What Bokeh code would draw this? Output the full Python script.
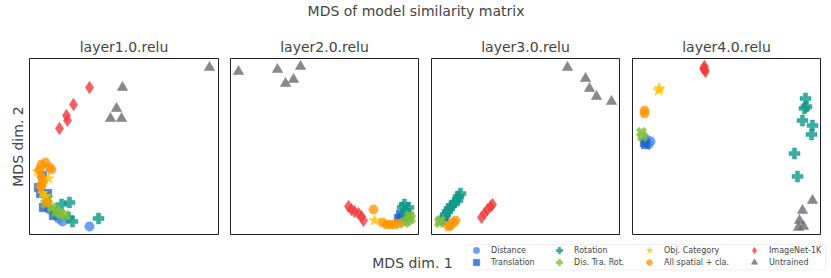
import math
from bokeh.plotting import figure
from bokeh.layouts import column, row
from bokeh.models import (Range1d, Title, Legend, LegendItem, BoxAnnotation, Label,
                          ColumnDataSource)
from bokeh.embed import file_html
from bokeh.resources import INLINE

FONT = "DejaVu Sans"

CATEGORIES = ["Distance", "Translation", "Rotation", "Dis. Tra. Rot.",
              "Obj. Category", "All spatial + cla.", "ImageNet-1K", "Untrained"]
LAYERS = ["layer1.0.relu", "layer2.0.relu", "layer3.0.relu", "layer4.0.relu"]

# MDS coordinates (arbitrary units) per layer and category: (xs, ys)
LAYER1 = {
    "Distance": ([60, 29, 20, 33], [8, 16, 25, 13]),
    "Translation": ([11, 18, 13, 24, 14, 9], [41, 41, 59, 19, 27, 47]),
    "Rotation": ([40, 32, 69, 39, 43, 26], [32, 30, 16, 17, 13, 22]),
    "Dis. Tra. Rot.": ([16, 23, 31, 36, 18, 27], [31, 27, 21, 19, 36, 23]),
    "Obj. Category": ([8, 14, 19, 13, 12, 16], [63, 55, 56, 41, 46, 38]),
    "All spatial + cla.": ([12, 16, 20, 22, 10, 12, 13, 11, 18], [70, 72, 67, 65, 65, 58, 52, 48, 32]),
    "ImageNet-1K": ([60, 44, 37, 38, 30], [147, 130, 119, 114, 106]),
    "Untrained": ([180, 93, 87, 81, 92], [167, 147, 126, 116, 116]),
}
LAYER2 = {
    "Distance": ([172, 176], [18, 16]),
    "Translation": ([168, 170], [16, 20]),
    "Rotation": ([175, 172, 178, 176, 174], [24, 27, 27, 21, 30]),
    "Dis. Tra. Rot.": ([177, 180, 174, 179], [14, 16, 12, 19]),
    "Obj. Category": ([144], [14]),
    "All spatial + cla.": ([143, 152, 156, 160, 164, 168], [25, 12, 10, 10, 10, 11]),
    "ImageNet-1K": ([118, 121, 124, 128, 131, 133], [28, 25, 23, 21, 18, 14]),
    "Untrained": ([8, 47, 70, 55, 63], [163, 165, 168, 151, 155]),
}
LAYER3 = {
    "Distance": ([12, 14], [16, 18]),
    "Translation": ([13], [14]),
    "Rotation": ([29, 27, 26, 23, 20, 18, 16, 14], [41, 38, 34, 32, 29, 26, 23, 20]),
    "Dis. Tra. Rot.": ([9, 8], [14, 12]),
    "Obj. Category": ([18], [11]),
    "All spatial + cla.": ([22, 19, 24, 17], [12, 9, 14, 8]),
    "ImageNet-1K": ([50, 53, 56, 59, 61], [17, 21, 25, 28, 30]),
    "Untrained": ([136, 154, 158, 165, 180], [167, 156, 146, 138, 133]),
}
LAYER4 = {
    "Distance": ([18, 14, 16], [93, 95, 90]),
    "Translation": ([12, 13], [92, 90]),
    "Rotation": ([173, 172, 174, 170, 180, 179, 162, 165], [136, 126, 128, 114, 109, 100, 81, 58]),
    "Dis. Tra. Rot.": ([9, 10], [102, 98]),
    "Obj. Category": ([26, 27], [144, 146]),
    "All spatial + cla.": ([12, 12], [124, 121]),
    "ImageNet-1K": ([72, 72, 73, 71], [168, 165, 163, 166]),
    "Untrained": ([180, 170, 167, 171, 166], [34, 24, 14, 8, 7]),
}
LAYER_DATA = [LAYER1, LAYER2, LAYER3, LAYER4]

STYLE = {
    "Distance": dict(marker="circle", color="#4a8af4", size=9.5, angle=0),
    "Translation": dict(marker="square", color="#1f63cc", size=8.5, angle=0),
    "Rotation": dict(marker="plus", color="#0e9889", size=11, angle=0),
    "Dis. Tra. Rot.": dict(marker="plus", color="#7fbe3a", size=11, angle=math.pi / 4),
    "Obj. Category": dict(marker="star", color="#ffc000", size=12, angle=0),
    "All spatial + cla.": dict(marker="hex", color="#ff9500", size=10, angle=0),
    "ImageNet-1K": dict(marker="diamond", color="#ef3b3b", size=12.5, angle=0),
    "Untrained": dict(marker="triangle", color="#6b6b70", size=10.5, angle=0),
}
ALPHA = 0.8

X_MAX = [189, 188, 188, 188]
Y_MAX = 176
WIDTHS = [224, 200, 201, 198]
BORDER_L = [29, 6, 7, 7]
BORDER_R = [6, 6, 6, 3]

# ---- overall title ----
top = figure(width=831, height=32, output_backend="svg", toolbar_location=None,
             x_axis_location=None, y_axis_location=None, min_border=0, min_border_top=4,
             outline_line_color=None, x_range=Range1d(0, 1), y_range=Range1d(0, 1))
top.grid.visible = False
top.title.text = "MDS of model similarity matrix"
top.title.align = "center"
top.title.text_font = FONT
top.title.text_font_size = "14px"
top.title.text_font_style = "normal"
top.title.standoff = 0

panels = []
for i, (name, data) in enumerate(zip(LAYERS, LAYER_DATA)):
    p = figure(width=WIDTHS[i], height=206, output_backend="svg", toolbar_location=None,
               x_axis_location=None, y_axis_location=None,
               x_range=Range1d(0, X_MAX[i]), y_range=Range1d(0, Y_MAX),
               min_border_left=BORDER_L[i], min_border_right=BORDER_R[i],
               min_border_top=26, min_border_bottom=4)
    p.grid.visible = False
    p.outline_line_color = "#222222"
    p.outline_line_width = 1
    p.outline_line_alpha = 1
    p.title.text = name
    p.title.align = "center"
    p.title.text_font = FONT
    p.title.text_font_size = "14px"
    p.title.text_font_style = "normal"
    p.title.standoff = 7
    for cat in CATEGORIES:
        xs, ys = data[cat]
        st = STYLE[cat]
        p.scatter(xs, ys, marker=st["marker"], size=st["size"], angle=st["angle"],
                  fill_color=st["color"], line_color=st["color"], line_width=0.5,
                  fill_alpha=ALPHA, line_alpha=ALPHA)
    if i == 0:
        p.add_layout(Title(text="MDS dim. 2", align="center", text_font=FONT,
                           text_font_size="14px", text_font_style="normal", standoff=7), "left")
    panels.append(p)

# ---- bottom: x label + legend ----
BW, BH = 828, 36
bot = figure(width=BW, height=BH, output_backend="svg", toolbar_location=None,
             x_axis_location=None, y_axis_location=None, min_border=0,
             outline_line_color=None, x_range=Range1d(0, BW), y_range=Range1d(0, BH))
bot.grid.visible = False
# an off-screen range so that the legend proxies (real layer-4 data) are not shown
bot.extra_y_ranges = {"hidden": Range1d(10000, 10001)}
bot.add_layout(Label(x=412, y=12, text="MDS dim. 1", text_align="center",
                     text_baseline="middle", text_font=FONT, text_font_size="14px"))
bot.add_layout(BoxAnnotation(left=465.5, right=825, bottom=4.5, top=30,
                             fill_color="white", fill_alpha=0.8,
                             line_color="#cccccc", line_width=1, border_radius=2))

proxies = {}
for cat in CATEGORIES:
    st = STYLE[cat]
    xs, ys = LAYER4[cat]
    src = ColumnDataSource(dict(x=xs, y=ys))
    proxies[cat] = bot.scatter("x", "y", source=src, y_range_name="hidden",
                               marker=st["marker"], angle=st["angle"], size=st["size"],
                               fill_color=st["color"], line_color=st["color"],
                               fill_alpha=ALPHA, line_alpha=ALPHA, line_width=0.5)

col_x = [468, 551, 641, 746]
row_bottom = [14, 2]
for idx, cat in enumerate(CATEGORIES):
    c, r = divmod(idx, 2)
    lg = Legend(items=[LegendItem(label=cat, renderers=[proxies[cat]])],
                location=(col_x[c], row_bottom[r]), orientation="vertical",
                glyph_width=16, glyph_height=20, label_height=10, label_standoff=7,
                spacing=0, padding=0, margin=0, border_line_color=None,
                background_fill_alpha=0, label_text_font=FONT, label_text_font_size="8px")
    bot.add_layout(lg)

layout = column(top, row(*panels), bot)
open("out.html", "w").write(file_html(layout, INLINE))
